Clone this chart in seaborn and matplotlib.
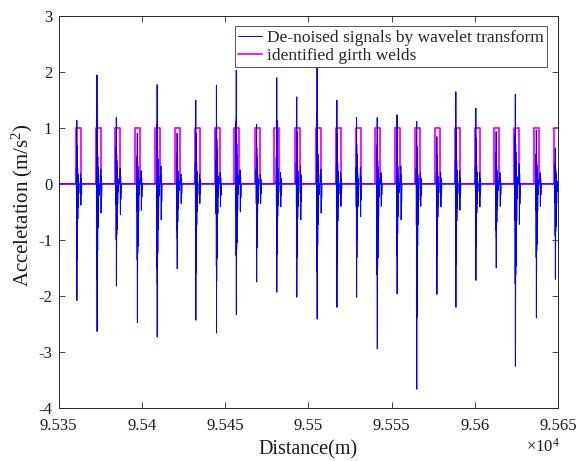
import numpy as np
import pandas as pd
import matplotlib
matplotlib.use("Agg")
import matplotlib.pyplot as plt
import seaborn as sns
from matplotlib.ticker import FixedLocator, FixedFormatter

# ---------------- data ----------------
# start / end of each identified girth-weld pulse (m)
weld_start = [95348.0, 95360.3, 95372.4, 95384.0, 95396.0, 95408.0, 95420.1,
              95431.7, 95443.7, 95455.6, 95467.8, 95479.6, 95491.8, 95504.3,
              95516.3, 95528.3, 95539.9, 95552.0, 95563.8, 95576.0, 95587.9,
              95599.9, 95611.7, 95623.5, 95635.6, 95647.6]
weld_end = [95350.6, 95363.3, 95375.4, 95387.0, 95399.0, 95411.0, 95423.1,
            95434.7, 95446.7, 95458.6, 95470.8, 95482.6, 95494.8, 95507.3,
            95519.3, 95531.3, 95542.9, 95555.0, 95566.8, 95579.0, 95590.9,
            95602.9, 95614.7, 95626.5, 95638.6, 95650.6]
pulse_level = 1.0

# spikes of the de-noised signal (one per weld, from the 2nd weld on)
spike_pos = [95360.9, 95373.0, 95384.6, 95397.2, 95409.1, 95421.1, 95432.3,
             95444.7, 95456.6, 95468.8, 95480.9, 95492.9, 95505.1, 95517.0,
             95528.8, 95541.2, 95553.1, 95564.9, 95577.0, 95588.4, 95600.4,
             95612.6, 95624.1, 95636.7, 95648.1]
spike_up = [1.13, 1.94, 1.18, 0.90, 1.77, 0.90, 1.49, 1.76, 2.03, 1.06, 1.89,
            1.55, 2.12, 1.49, 1.18, 1.18, 1.23, 1.11, 0.84, 1.64, 1.35, 0.93,
            1.60, 0.96, 0.64]
spike_down = [-2.08, -2.63, -1.82, -2.47, -2.73, -1.51, -2.43, -2.66, -2.33,
              -1.75, -1.93, -2.02, -2.41, -2.20, -2.02, -2.94, -1.96, -3.66,
              -1.97, -2.20, -1.72, -1.50, -3.25, -2.39, -1.70]
second_down = [-0.38, -0.52, -0.55, -0.47, -0.64, -0.35, -0.35, -0.41, -0.50,
               -0.35, -0.41, -0.64, -0.52, -0.40, -0.58, -0.40, -0.64, -0.40,
               -0.41, -0.47, -0.41, -0.40, -0.72, -0.40, -0.40]

x_ticks = [95350, 95400, 95450, 95500, 95550, 95600, 95650]
x_tick_labels = ["9.535", "9.54", "9.545", "9.55", "9.555", "9.56", "9.565"]
y_ticks = [-4, -3, -2, -1, 0, 1, 2, 3]
y_tick_labels = ["-4", "-3", "-2", "-1", "0", "1", "2", "3"]
x_range = (95350, 95650)
y_range = (-4, 3)

# ---------------- build line paths from the read values ----------------
# per-spike waveform: (offset in m, share of up peak, share of down peak)
main_off = [-0.5, -0.3, -0.2, -0.1, 0.0, 0.05, 0.1, 0.15, 0.2, 0.25, 0.3,
            0.35, 0.4, 0.5, 0.6, 0.7, 0.8, 0.95, 1.1, 1.3, 1.5]
main_up = [0.0, 0.05, 0.25, 0.0, 0.55, 0.0, 1.0, 0.0, 0.6, 0.0, 0.45,
           0.0, 0.35, 0.0, 0.25, 0.0, 0.15, 0.0, 0.08, 0.0, 0.0]
main_dn = [0.0, 0.0, 0.0, 0.2, 0.0, 0.55, 0.0, 1.0, 0.0, 0.65, 0.0,
           0.5, 0.0, 0.45, 0.0, 0.3, 0.0, 0.2, 0.0, 0.08, 0.0]
sec_off = [2.2, 2.4, 2.55, 2.7, 2.85, 3.1]
sec_fac = [0.0, -0.5, 1.0, -0.25, 0.5, 0.0]

sig_x, sig_y = [x_range[0]], [0.0]
for p, up, dn, sd in zip(spike_pos, spike_up, spike_down, second_down):
    for o, fu, fd in zip(main_off, main_up, main_dn):
        sig_x.append(p + o)
        sig_y.append(fu * up + fd * dn)
    for o, f in zip(sec_off, sec_fac):
        sig_x.append(p + o)
        sig_y.append(f * sd)
sig_x.append(x_range[1])
sig_y.append(0.0)
signal = pd.DataFrame({"x": sig_x, "y": sig_y})

wx, wy = [], []
for s, e in zip(weld_start, weld_end):
    wx += [s, s, e, e]
    wy += [0.0, pulse_level, pulse_level, 0.0]
welds = pd.DataFrame({"x": wx, "y": wy})

# ---------------- plot ----------------
sns.set_style("ticks")
plt.rcParams["font.family"] = ["Liberation Serif", "DejaVu Serif"]
plt.rcParams["mathtext.fontset"] = "custom"
plt.rcParams["mathtext.rm"] = "Liberation Serif"
plt.rcParams["mathtext.it"] = "Liberation Serif:italic"

fig = plt.figure(figsize=(5.79, 4.61), dpi=100)
ax = fig.add_axes([58.5 / 579, 1 - 408.3 / 461, 499.8 / 579, 392.8 / 461])

sns.lineplot(data=signal, x="x", y="y", estimator=None, sort=False,
             color="#0000ff", lw=0.7, ax=ax, zorder=3,
             label="De-noised signals by wavelet transform")
sns.lineplot(data=welds, x="x", y="y", estimator=None, sort=False,
             color="#ff00ff", lw=1.3, ax=ax, zorder=2,
             label="identified girth welds")

ax.set_xlim(*x_range)
ax.set_ylim(*y_range)
ax.xaxis.set_major_locator(FixedLocator(x_ticks))
ax.xaxis.set_major_formatter(FixedFormatter(x_tick_labels))
ax.yaxis.set_major_locator(FixedLocator(y_ticks))
ax.yaxis.set_major_formatter(FixedFormatter(y_tick_labels))

edge = "#262626"
for sp in ax.spines.values():
    sp.set_visible(True)
    sp.set_color(edge)
    sp.set_linewidth(0.7)
ax.tick_params(direction="in", top=True, right=True, length=4, width=0.6,
               color=edge, labelcolor="#1a1a1a", labelsize=12)
ax.tick_params(axis="x", pad=6.7)
ax.tick_params(axis="y", pad=4.5)

ax.set_xlabel("Distance(m)", fontsize=14.5, color="#1a1a1a")
ax.set_ylabel("Acceletation (m/s$^{2}$)", fontsize=15, color="#1a1a1a")
ax.xaxis.set_label_coords(0.5, -0.082)
ax.yaxis.set_label_coords(-0.047, 0.518)

fig.text(560 / 579, 1 - 452 / 461, r"$\times\mathregular{10^{4}}$",
         ha="right", va="baseline", fontsize=12, color="#1a1a1a")

leg = ax.legend(loc="upper right", fontsize=12.5, frameon=True, fancybox=False,
                framealpha=1, edgecolor="#555555", borderaxespad=0.63,
                borderpad=0.2, labelspacing=0.1, handlelength=1.35,
                handletextpad=0.3)
leg.get_frame().set_linewidth(0.7)

fig.savefig("out.png", dpi=100)
